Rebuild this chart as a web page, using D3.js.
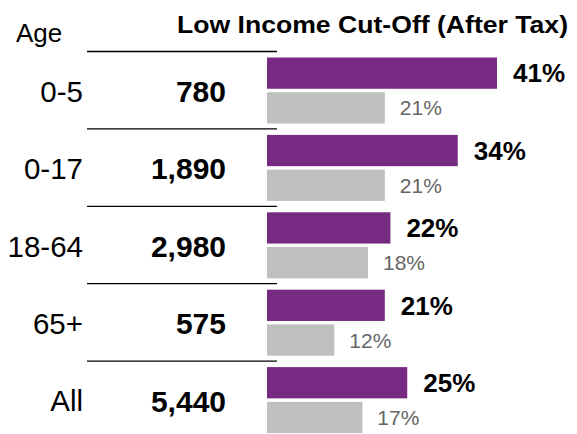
<!DOCTYPE html>
<html>
<head>
<meta charset="utf-8">
<title>Low Income Cut-Off</title>
<script src="https://d3js.org/d3.v7.min.js"></script>
<style>
    body { margin: 0; background: #fff; }
    text { font-family: Arial, "Liberation Sans", sans-serif; }
</style>
</head>
<body>
<svg id="chart"></svg>
<script>
    // data
    var ages = ["0-5", "0-17", "18-64", "65+", "All"];
    var counts = [780, 1890, 2980, 575, 5440];
    var licoRate = [41, 34, 22, 21, 25];     // purple bars
    var compareRate = [21, 21, 18, 12, 17];  // grey bars

    var W = 577, H = 434;
    var rows = ages.map(function(a, i) {
        return { age: a, count: counts[i], lico: licoRate[i], comp: compareRate[i] };
    });

    var svg = d3.select("#chart").attr("width", W).attr("height", H);

    // row bands
    var y = d3.scaleBand().domain(ages).range([51.5, 51.5 + 77.4 * ages.length]);
    var ySub = d3.scaleBand().domain(["lico", "comp"]).range([6, 72]).paddingInner(0.1);

    // bar length
    var barX0 = 267;
    var x = d3.scaleLinear().domain([0, 41]).range([0, 230]);

    // header
    svg.append("text")
        .attr("x", 16).attr("y", 41.5)
        .attr("font-size", 26)
        .text("Age");

    svg.append("text")
        .attr("x", 568).attr("y", 32.5)
        .attr("text-anchor", "end")
        .attr("font-size", 23.5).attr("font-weight", "bold")
        .attr("textLength", 391).attr("lengthAdjust", "spacingAndGlyphs")
        .text("Low Income Cut-Off (After Tax)");

    var g = svg.selectAll("g.row")
        .data(rows)
        .enter().append("g")
        .attr("class", "row")
        .attr("transform", function(d) { return "translate(0," + y(d.age) + ")"; });

    // separator line at the top of each row
    g.append("line")
        .attr("x1", 87).attr("x2", 277)
        .attr("y1", 0).attr("y2", 0)
        .attr("stroke", "#000").attr("stroke-width", 1.3);

    var mid = y.bandwidth() / 2 + 1;

    g.append("text")
        .attr("x", 83).attr("y", mid).attr("dy", "0.36em")
        .attr("text-anchor", "end")
        .attr("font-size", 29.5)
        .text(function(d) { return d.age; });

    g.append("text")
        .attr("x", 226).attr("y", mid).attr("dy", "0.36em")
        .attr("text-anchor", "end")
        .attr("font-size", 30).attr("font-weight", "bold")
        .text(function(d) { return d3.format(",")(d.count); });

    // bars
    g.append("rect")
        .attr("x", barX0).attr("y", ySub("lico"))
        .attr("width", function(d) { return x(d.lico); })
        .attr("height", ySub.bandwidth())
        .attr("fill", "#772a82");

    g.append("rect")
        .attr("x", barX0).attr("y", ySub("comp"))
        .attr("width", function(d) { return x(d.comp); })
        .attr("height", ySub.bandwidth())
        .attr("fill", "#bfbfbf");

    // value labels
    g.append("text")
        .attr("x", function(d) { return barX0 + x(d.lico) + 16; })
        .attr("y", ySub("lico") + ySub.bandwidth() / 2).attr("dy", "0.36em")
        .attr("font-size", 26).attr("font-weight", "bold")
        .text(function(d) { return d.lico + "%"; });

    g.append("text")
        .attr("x", function(d) { return barX0 + x(d.comp) + 15; })
        .attr("y", ySub("comp") + ySub.bandwidth() / 2).attr("dy", "0.36em")
        .attr("font-size", 21).attr("fill", "#666")
        .text(function(d) { return d.comp + "%"; });
</script>
</body>
</html>
